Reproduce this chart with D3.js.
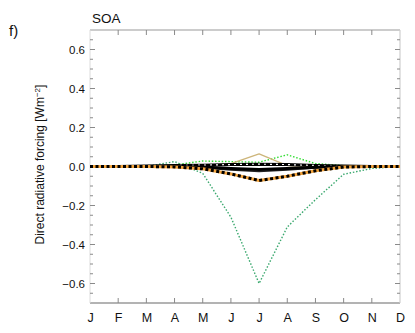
<!DOCTYPE html>
<html>
<head>
<meta charset="utf-8">
<script src="https://cdn.jsdelivr.net/npm/d3@7"></script>
<style>
  html, body { margin: 0; padding: 0; background: #fff; }
  svg { display: block; font-family: "Liberation Sans", Arial, sans-serif; }
</style>
</head>
<body>
<svg id="chart" width="415" height="333"></svg>
<script>
// Monthly SOA direct radiative forcing (W m^-2)
const months = ["J", "F", "M", "A", "M", "J", "J", "A", "S", "O", "N", "D"];
const yTicks = [-0.6, -0.4, -0.2, 0.0, 0.2, 0.4, 0.6];

const seaGreenDotted = [0, 0, 0, 0.025, -0.035, -0.26, -0.60, -0.31, -0.17, -0.04, -0.01, 0];
const limeDotted     = [0, 0, 0, 0.008, 0.028, 0.025, 0.022, 0.06, 0.015, 0.004, 0, 0];
const tanSolid       = [0, 0, 0, 0, 0.002, 0.015, 0.065, 0.005, 0, 0, 0, 0];
const orangeDashed   = [0, 0, 0, -0.002, -0.012, -0.038, -0.072, -0.05, -0.022, -0.003, 0, 0];
const blackSolidA    = [0, 0, 0, 0, -0.003, -0.01, -0.015, -0.01, -0.004, 0, 0, 0];
const blackSolidB    = [0, 0, 0, 0, -0.008, -0.018, -0.025, -0.018, -0.008, -0.002, 0, 0];
const blackDashed    = [0, 0, 0.003, 0.005, 0.007, 0.01, 0.012, 0.01, 0.005, 0.002, 0, 0];

const svg = d3.select("#chart");
const pLeft = 90, pRight = 400, pTop = 30, pBottom = 303;

const x = d3.scaleLinear().domain([0, months.length - 1]).range([pLeft, pRight]);
const y = d3.scaleLinear().domain([-0.7, 0.7]).range([pBottom, pTop]);

const axisColor = "#9a9a9a";

// frame
svg.append("line").attr("x1", pLeft).attr("x2", pRight).attr("y1", pTop).attr("y2", pTop)
  .attr("stroke", axisColor).attr("stroke-width", 1.2);
svg.append("line").attr("x1", pLeft).attr("x2", pRight).attr("y1", pBottom).attr("y2", pBottom)
  .attr("stroke", axisColor).attr("stroke-width", 1.5);
svg.append("line").attr("x1", pLeft).attr("x2", pLeft).attr("y1", pTop).attr("y2", pBottom)
  .attr("stroke", "#dcdcdc").attr("stroke-width", 1);
svg.append("line").attr("x1", pRight).attr("x2", pRight).attr("y1", pTop).attr("y2", pBottom)
  .attr("stroke", "#cfcfcf").attr("stroke-width", 1.2);

// y ticks (major + minor, inward on both sides)
const minor = d3.range(-0.65, 0.7, 0.05).map(v => +v.toFixed(2));
const tickG = svg.append("g");
minor.forEach(v => {
  const isMajor = Math.abs(Math.round(v * 10) / 10 - v) < 1e-6 && Math.round(v * 10) % 2 === 0;
  const len = isMajor ? 5 : 3;
  tickG.append("line").attr("x1", pLeft).attr("x2", pLeft + len)
    .attr("y1", y(v)).attr("y2", y(v)).attr("stroke", "#8a8a8a").attr("stroke-width", 1);
  tickG.append("line").attr("x1", pRight - len).attr("x2", pRight)
    .attr("y1", y(v)).attr("y2", y(v)).attr("stroke", "#8a8a8a").attr("stroke-width", 1);
});

// y axis labels
const yAxis = d3.axisLeft(y).tickValues(yTicks).tickSize(0).tickPadding(5)
  .tickFormat(d => d3.format(".1f")(d).replace("-", "\u2212"));
const gy = svg.append("g").attr("transform", `translate(${pLeft},0)`).call(yAxis);
gy.select(".domain").remove();
gy.selectAll("text").attr("font-size", 11.5).attr("fill", "#111")
  .attr("font-family", "Liberation Sans, Arial, sans-serif");

// x ticks top and bottom
months.forEach((m, i) => {
  if (i === 0 || i === months.length - 1) return;
  tickG.append("line").attr("x1", x(i)).attr("x2", x(i)).attr("y1", pBottom).attr("y2", pBottom - 5)
    .attr("stroke", "#8a8a8a");
  tickG.append("line").attr("x1", x(i)).attr("x2", x(i)).attr("y1", pTop).attr("y2", pTop + 5)
    .attr("stroke", "#8a8a8a");
});

const xAxis = d3.axisBottom(x).tickValues(d3.range(months.length)).tickSize(0).tickPadding(10)
  .tickFormat(i => months[i]);
const gx = svg.append("g").attr("transform", `translate(0,${pBottom})`).call(xAxis);
gx.select(".domain").remove();
gx.selectAll("text").attr("font-size", 12.5).attr("fill", "#111")
  .attr("font-family", "Liberation Sans, Arial, sans-serif");

// series
const line = d3.line().x((d, i) => x(i)).y(d => y(d));
const plot = svg.append("g");

function draw(data, color, width, dash) {
  plot.append("path").attr("d", line(data)).attr("fill", "none")
    .attr("stroke", color).attr("stroke-width", width)
    .attr("stroke-dasharray", dash || null)
    .attr("stroke-linejoin", "round");
}

draw(seaGreenDotted, "#3aa86e", 1.4, "1.5,1.8");
draw(limeDotted, "#33dd33", 1.4, "1.5,1.8");
draw(tanSolid, "#cdb57a", 1.3);
draw(blackDashed, "#000", 3);
draw(blackDashed, "#fff", 1.2, "2,4");
draw(blackSolidB, "#222", 1.6);
draw(blackSolidA, "#000", 3);
draw(orangeDashed, "#f2a23a", 3);
draw(orangeDashed, "#000", 3, "3,2.5");

// titles
svg.append("text").attr("x", 92).attr("y", 23).attr("font-size", 13.5).attr("fill", "#111").text("SOA");
svg.append("text").attr("x", 9).attr("y", 36).attr("font-size", 15).attr("fill", "#111").text("f)");

const yt = svg.append("text")
  .attr("transform", `translate(44,${y(0.01)}) rotate(-90)`)
  .attr("text-anchor", "middle").attr("font-size", 12).attr("fill", "#111");
yt.append("tspan").text("Direct radiative forcing [Wm");
yt.append("tspan").attr("dy", -4).attr("font-size", 8).text("\u22122");
yt.append("tspan").attr("dy", 4).text("]");
</script>
</body>
</html>
